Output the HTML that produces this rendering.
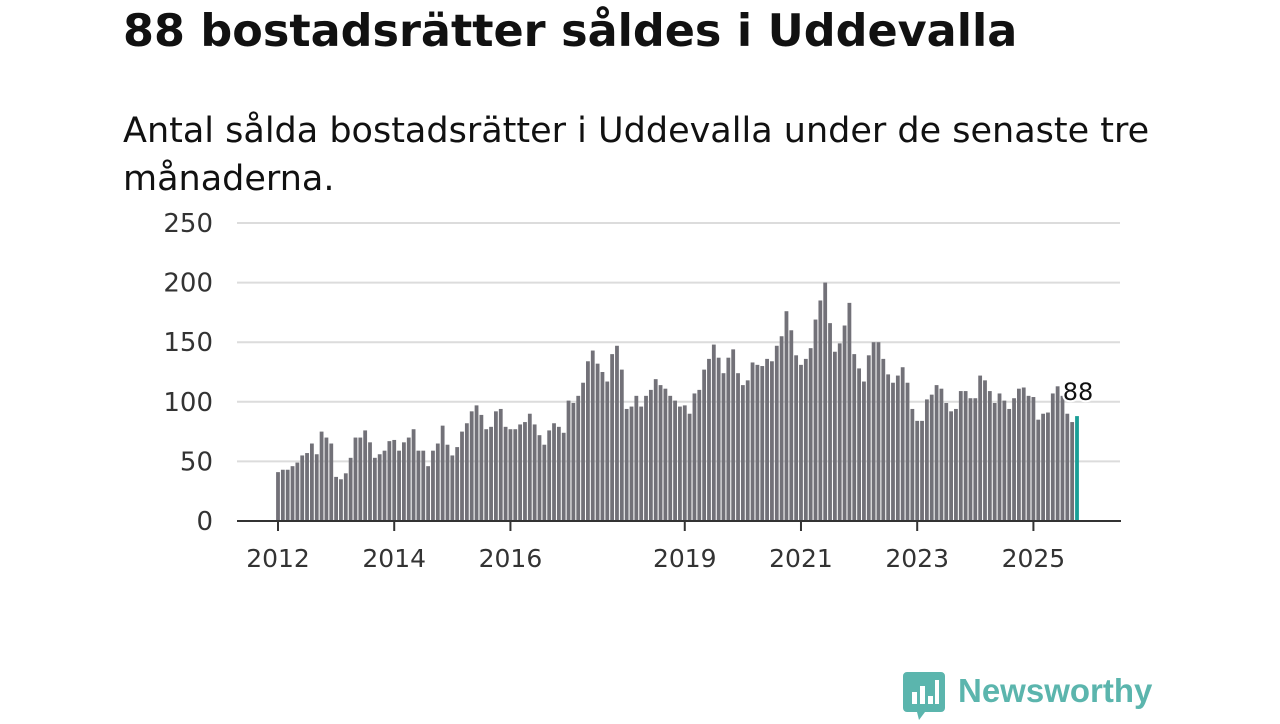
<!DOCTYPE html>
<html><head><meta charset="utf-8">
<style>
body{margin:0;width:1280px;height:720px;background:#fff;overflow:hidden;font-family:"DejaVu Sans",sans-serif;position:relative}
h1{position:absolute;left:123px;top:6px;margin:0;font-size:44.5px;font-weight:bold;color:#111;white-space:nowrap}
p{position:absolute;left:123px;top:107px;margin:0;font-size:35px;line-height:48px;color:#111;width:1070px}
svg{position:absolute;left:0;top:0}
</style></head><body>
<h1>88 bostadsrätter såldes i Uddevalla</h1>
<p>Antal sålda bostadsrätter i Uddevalla under de senaste tre månaderna.</p>
<svg id="chart" width="1280" height="720"></svg>
<div style="position:absolute;left:903px;top:672px;">
 <svg width="42" height="48" viewBox="0 0 42 48" style="position:static"><path d="M4 0h34a4 4 0 0 1 4 4v32a4 4 0 0 1-4 4H22l-6 8-2-8H4a4 4 0 0 1-4-4V4a4 4 0 0 1 4-4z" fill="#5bb5ad"/><rect x="9" y="20" width="5" height="12" fill="#fff"/><rect x="17" y="14" width="5" height="18" fill="#fff"/><rect x="25" y="24" width="5" height="8" fill="#fff"/><rect x="32" y="8" width="4" height="24" fill="#fff"/></svg>
 <span style="position:absolute;left:55px;top:0px;font-family:'Liberation Sans',sans-serif;font-size:33px;font-weight:bold;color:#5bb5ad;white-space:nowrap">Newsworthy</span>
</div>
<script>
const values=[41,43,43,46,49,55,57,65,56,75,70,65,37,35,40,53,70,70,76,66,53,56,59,67,68,59,66,70,77,59,59,46,59,65,80,64,55,62,75,82,92,97,89,
77,79,92,94,79,77,77,81,83,90,81,72,64,76,82,79,74,101,99,105,116,134,143,132,125,117,140,147,127,94,96,105,96,105,110,119,114,111,105,101,96,
97,90,107,110,127,136,148,137,124,137,144,124,114,118,133,131,130,136,134,147,155,176,160,139,131,136,145,169,185,200,166,142,149,164,183,140,128,117,139,150,150,
136,123,116,122,129,116,94,84,84,102,106,114,111,99,92,94,109,109,103,103,122,118,109,99,107,101,94,103,111,112,105,104,85,90,91,107,113,105,90,83,88];
const yTicks=[0,50,100,150,200,250];
const xTickLabels=["2012","2014","2016","2019","2021","2023","2025"];
const xTickIdx=[0,24,48,84,108,132,156];
const NS="http://www.w3.org/2000/svg";
const svg=document.getElementById('chart');
const n=values.length;
const x=i=>278+i*(1077-278)/(n-1);
const y=v=>521-v*298/250;
function mk(t,a){const e=document.createElementNS(NS,t);for(const k in a)e.setAttribute(k,a[k]);svg.appendChild(e);return e;}
yTicks.forEach(t=>{
 if(t>0){const g=mk('line',{x1:237,x2:1120,y1:y(t),y2:y(t),stroke:'#dcdcdc','stroke-width':2});
 
 }
 const l=mk('text',{x:213,y:y(t)+9,'text-anchor':'end','font-size':26,fill:'#333','font-family':'DejaVu Sans, sans-serif'});
 l.textContent=t;
 
 
});
values.forEach((v,i)=>{
 const last=i===n-1;
 const b=mk('rect',{x:x(i)-1.9,y:y(v),width:3.8,height:521-y(v),fill:last?'#1a9e96':'#727178'});
 
 
});
const ax=mk('line',{x1:237,x2:1121,y1:521,y2:521,stroke:'#333','stroke-width':2});


xTickIdx.forEach((idx,k)=>{
 const tk=mk('line',{x1:x(idx),x2:x(idx),y1:521,y2:531,stroke:'#333','stroke-width':2});
 
 
 const l=mk('text',{x:x(idx),y:567,'text-anchor':'middle','font-size':25,fill:'#333','font-family':'DejaVu Sans, sans-serif'});
 l.textContent=xTickLabels[k];
 
 
});
const lab=mk('text',{x:x(n-1)+1,y:y(values[n-1])-16,'text-anchor':'middle','font-size':24,fill:'#111',stroke:'#fff','stroke-width':4,'paint-order':'stroke','font-family':'DejaVu Sans, sans-serif'});
lab.textContent=values[n-1];


</script>
</body></html>
